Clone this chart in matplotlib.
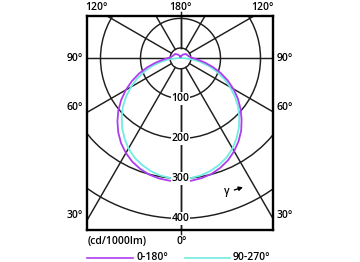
import numpy as np
import matplotlib.pyplot as plt
from matplotlib.patches import Circle

plt.rcParams['font.family'] = ['Open Sans', 'DejaVu Sans']
plt.rcParams['font.weight'] = 'semibold'

# angle from nadir (0 = straight down, 180 = straight up), degrees
angles = np.arange(0, 181, 5)

# C0-180 plane, cd/1000lm (left half = 180 side, right half = 0 side)
c0_180_left = [308, 307, 305, 301, 294, 285, 273, 259, 242, 223, 203, 181, 158,
               134, 110, 86, 64, 46, 34, 27, 23, 21, 20, 19, 18, 18, 17, 15,
               13, 12, 10, 9, 7, 6, 5, 4, 4]
c0_180_right = [308, 307, 304, 299, 291, 281, 268, 253, 236, 216, 196, 175, 153,
                130, 107, 84, 63, 46, 34, 27, 23, 21, 20, 19, 18, 18, 17, 15,
                13, 12, 10, 9, 7, 6, 5, 4, 4]
# C90-270 plane
c90_270 = [302, 300, 297, 291, 283, 273, 260, 244, 227, 208, 188, 166, 143,
           120, 96, 73, 50, 30, 13, 7, 4, 3, 2, 2, 2, 1, 1, 1, 1, 1, 1, 1,
           1, 1, 1, 1, 1]

rings = [100, 200, 300, 400]
spoke_angles = [0, 30, 60, 90, 120, 150, 180]
side_labels = ['30°', '60°', '90°']


def to_xy(theta_deg, r, side):
    t = np.radians(theta_deg)
    return side * np.asarray(r) * np.sin(t), -np.asarray(r) * np.cos(t)


fig = plt.figure(figsize=(3.6, 2.62), dpi=100)
ax = fig.add_axes([87 / 360, 1 - 230 / 262, 186 / 360, 214 / 262])
ax.set_xlim(-233.75, 231.25)
ax.set_ylim(-429, 106)
ax.set_xticks([])
ax.set_yticks([])
for s in ax.spines.values():
    s.set_linewidth(1.7)
    s.set_color('black')

grid_col = '#1e1e1e'
glw = 1.05
r_in = 26
ax.add_patch(Circle((0, 0), r_in, fill=False, ec=grid_col, lw=glw))
for r in rings:
    ax.add_patch(Circle((0, 0), r, fill=False, ec=grid_col, lw=glw))
for a in spoke_angles:
    for side in (-1, 1):
        x, y = to_xy(a, [r_in, 700], side)
        ax.plot(x, y, color=grid_col, lw=glw)
# little ticks outside the frame at 0 and 180
ax.plot([0, 0], [-429, -440], color=grid_col, lw=glw, clip_on=False)
ax.plot([0, 0], [106, 116], color=grid_col, lw=glw, clip_on=False)

# curves
mag = '#ad3ef0'
cya = '#70ece2'
xl, yl = to_xy(angles[::-1], c0_180_left[::-1], -1)
xr, yr = to_xy(angles, c0_180_right, 1)
ax.plot(np.r_[xl, xr], np.r_[yl, yr], color=mag, lw=1.3, zorder=4)
xl, yl = to_xy(angles[::-1], c90_270[::-1], -1)
xr, yr = to_xy(angles, c90_270, 1)
ax.plot(np.r_[xl, xr], np.r_[yl, yr], color=cya, lw=1.3, zorder=3)

fs = 7.5
for r in rings:
    ax.text(0, -r, str(r), ha='center', va='center', fontsize=fs, zorder=5,
            bbox=dict(fc='white', ec='none', pad=0.6))

# angle labels around the frame
ax.text(0, 128, '180°', ha='center', va='center', fontsize=fs, clip_on=False)
ax.text(-211, 128, '120°', ha='center', va='center', fontsize=fs, clip_on=False)
ax.text(204, 128, '120°', ha='center', va='center', fontsize=fs, clip_on=False)
for lab, y in zip(side_labels, [-392, -124, 0]):
    ax.text(-264, y, lab, ha='center', va='center', fontsize=fs, clip_on=False)
    ax.text(261, y, lab, ha='center', va='center', fontsize=fs, clip_on=False)
ax.text(2, -457, '0°', ha='center', va='center', fontsize=fs, clip_on=False)
ax.text(-231, -457, '(cd/1000lm)', ha='left', va='center', fontsize=fs,
        clip_on=False)

# gamma marker
ax.text(115, -334, 'γ', ha='center', va='center', fontsize=fs)
ax.annotate('', xy=(163, -320), xytext=(128, -331),
            arrowprops=dict(arrowstyle='-|>', color='black', lw=1.0,
                            mutation_scale=6))

# legend row
ax.plot([-234, -119], [-499, -499], color=mag, lw=1.2, clip_on=False)
ax.text(-110, -499, '0-180°', ha='left', va='center', fontsize=fs,
        clip_on=False)
ax.plot([11, 124], [-499, -499], color=cya, lw=1.2, clip_on=False)
ax.text(131, -499, '90-270°', ha='left', va='center', fontsize=fs,
        clip_on=False)

fig.savefig('out.png', dpi=100)
